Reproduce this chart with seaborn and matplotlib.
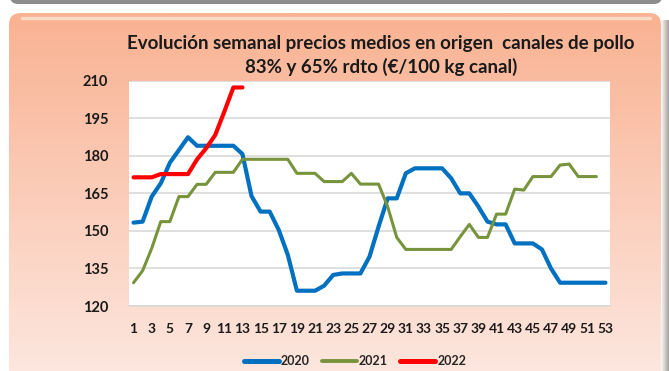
import numpy as np
import pandas as pd
import matplotlib
matplotlib.use("Agg")
import matplotlib.pyplot as plt
from matplotlib.patches import FancyBboxPatch, Rectangle
from matplotlib.lines import Line2D
import seaborn as sns

# Weekly average origin prices, chicken carcasses (EUR/100 kg)
semanas_2020 = list(range(1, 54))
precios_2020 = [153.3, 153.7, 163.7, 169.0, 177.2, 182.3, 187.4, 184.0, 184.0, 184.0,
                184.0, 184.0, 180.7, 163.9, 157.7, 157.7, 150.4, 140.4, 126.1, 126.1,
                126.1, 128.1, 132.4, 133.0, 133.0, 133.0, 139.7, 151.7, 163.0, 163.0,
                173.0, 175.0, 175.0, 175.0, 175.0, 171.0, 165.0, 165.0, 159.7, 153.7,
                152.6, 152.6, 145.0, 145.0, 145.0, 142.6, 135.0, 129.3, 129.3, 129.3,
                129.3, 129.3, 129.3]

semanas_2021 = list(range(1, 53))
precios_2021 = [129.3, 134.1, 143.0, 153.7, 153.7, 163.7, 163.7, 168.6, 168.6, 173.4,
                173.4, 173.4, 178.6, 178.6, 178.6, 178.6, 178.6, 178.6, 173.0, 173.0,
                173.0, 169.7, 169.7, 169.7, 173.0, 168.7, 168.7, 168.7, 159.7, 147.4,
                142.6, 142.6, 142.6, 142.6, 142.6, 142.6, 147.7, 152.6, 147.4, 147.4,
                156.7, 156.7, 166.7, 166.3, 171.7, 171.7, 171.7, 176.3, 176.7, 171.7,
                171.7, 171.7]

semanas_2022 = list(range(1, 14))
precios_2022 = [171.4, 171.4, 171.4, 172.7, 172.7, 172.7, 172.7, 178.6, 183.0, 188.3,
                197.6, 207.3, 207.3]

etiquetas_x = [str(s) for s in range(1, 54, 2)]
etiquetas_y = [120, 135, 150, 165, 180, 195, 210]

series = {
    "2020": (semanas_2020, precios_2020, "#0070C0", 3.0),
    "2021": (semanas_2021, precios_2021, "#77933C", 2.2),
    "2022": (semanas_2022, precios_2022, "#FF0000", 3.0),
}

sns.set_theme(style="white")
plt.rcParams["font.family"] = ["Lato", "DejaVu Sans"]

W, H = 669, 371
fig = plt.figure(figsize=(W / 100, H / 100), dpi=100)
fig.patch.set_facecolor("white")

# Panel background: rounded salmon box with vertical gradient
bg = fig.add_axes([0, 0, 1, 1])
bg.set_xlim(0, W)
bg.set_ylim(H, 0)
bg.axis("off")

# grey edge of the panel above
top_box = FancyBboxPatch((10, -30), 652, 34, boxstyle="round,pad=0,rounding_size=8",
                         facecolor="#8C8C8C", edgecolor="none", transform=bg.transData)
bg.add_patch(top_box)

top_c = np.array([249, 178, 146]) / 255
bot_c = np.array([253, 233, 226]) / 255
t = np.linspace(0, 1, 300)[:, None]
grad = (top_c * (1 - t) + bot_c * t)[:, None, :]
grad = np.repeat(grad, 2, axis=1)
img = bg.imshow(grad, extent=(9, 661, 390, 13), aspect="auto", origin="upper",
                interpolation="bilinear")
box = FancyBboxPatch((9, 13), 652, 380, boxstyle="round,pad=0,rounding_size=12",
                     facecolor="none", edgecolor="none", transform=bg.transData)
bg.add_patch(box)
img.set_clip_path(box)

# light highlight along the top edge
bg.plot([22, 650], [18, 18], color="#FDD9C6", lw=2.5, solid_capstyle="round")
# right shadow
for i, a in enumerate(np.linspace(0.05, 0.5, 8)):
    bg.add_patch(Rectangle((661 + i, 20), 1, 360, facecolor="#5A4A44",
                           alpha=a, edgecolor="none"))
bg.set_xlim(0, W)
bg.set_ylim(H, 0)

# Chart area
ax = fig.add_axes([129 / W, 1 - 306 / H, 481 / W, (306 - 80.7) / H])
ax.set_facecolor("white")

handles = []
for nombre, (sem, pre, color, lw) in series.items():
    df = pd.DataFrame({"semana": sem, "precio": pre})
    sns.lineplot(data=df, x="semana", y="precio", color=color, linewidth=lw,
                 ax=ax, legend=False)
    handles.append(Line2D([0], [0], color=color, lw=lw + 0.6, label=nombre))

ax.set_xlim(0.5, 53.5)
ax.set_ylim(120, 210)
ax.set_yticks(etiquetas_y)
ax.set_yticklabels([str(v) for v in etiquetas_y], fontweight="bold", fontsize=10.5)
ax.set_xticks(range(1, 54, 2))
ax.set_xticklabels(etiquetas_x, fontweight="bold", fontsize=10)
ax.tick_params(axis="y", length=0, pad=15, colors="#1A1A1A")
ax.tick_params(axis="x", length=0, pad=12, colors="#1A1A1A")
ax.set_xlabel("")
ax.set_ylabel("")
ax.yaxis.grid(True, color="#D9D9D9", linewidth=1.2)
ax.set_axisbelow(True)
for s in ["top", "right", "left"]:
    ax.spines[s].set_visible(False)
ax.spines["bottom"].set_color("#D9D9D9")
ax.spines["bottom"].set_linewidth(1.2)

fig.text(381 / W, 1 - 43 / H, "Evolución semanal precios medios en origen  canales de pollo",
         ha="center", va="center", fontsize=13.5, fontweight="bold", color="#1A1A1A")
fig.text(381 / W, 1 - 67 / H, "83% y 65% rdto (€/100 kg canal)",
         ha="center", va="center", fontsize=13.5, fontweight="bold", color="#1A1A1A")

fig.legend(handles=handles, loc="center", bbox_to_anchor=(355 / W, 1 - 361 / H),
           ncol=3, frameon=False, handlelength=2.8, handletextpad=0.15,
           columnspacing=1.0, prop={"weight": "bold", "size": 9})

fig.savefig("out.png", dpi=100)
